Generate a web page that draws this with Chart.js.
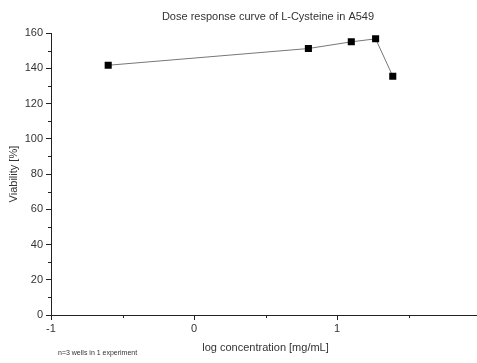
<!DOCTYPE html>
<html>
<head>
<meta charset="utf-8">
<script src="https://cdn.jsdelivr.net/npm/chart.js@4"></script>
<style>
  html, body { margin: 0; padding: 0; background: #fff; overflow: hidden; }
  #wrap { width: 536px; height: 363px; }
</style>
</head>
<body>
<div id="wrap"><canvas id="c" width="536" height="363"></canvas></div>
<script>
// log10 concentration (mg/mL) and mean viability (%)
const logConcentration = [-0.6, 0.8, 1.1, 1.27, 1.39];
const viability = [141.8, 151.3, 155.1, 156.8, 135.6];
const xMajorTicks = [-1, 0, 1, 2];
const xMinorTicks = [-0.5, 0.5, 1.5];
const yMajorTicks = [0, 20, 40, 60, 80, 100, 120, 140, 160];
const yMinorTicks = [10, 30, 50, 70, 90, 110, 130, 150];
const footnote = 'n=3 wells in 1 experiment';

const FONT = '"Liberation Sans", Arial, sans-serif';
const INK = '#333';

// center the chart title over the plot area rather than the whole canvas
const titleOverPlot = {
  id: 'titleOverPlot',
  afterLayout(chart) {
    const t = chart.titleBlock;
    if (!t) return;
    t.left = chart.chartArea.left + 5;
    t.right = chart.chartArea.right;
    t.width = t.right - t.left;
  }
};

// short minor tick marks on both axes, plus the footnote under the plot
const minorTicks = {
  id: 'minorTicks',
  afterDraw(chart) {
    const ctx = chart.ctx;
    const x = chart.scales.x, y = chart.scales.y;
    ctx.save();
    ctx.strokeStyle = '#222';
    ctx.lineWidth = 1;
    ctx.beginPath();
    xMinorTicks.forEach(v => {
      const px = Math.round(x.getPixelForValue(v)) + 0.5;
      ctx.moveTo(px, y.bottom);
      ctx.lineTo(px, y.bottom + 3);
    });
    yMinorTicks.forEach(v => {
      const py = Math.round(y.getPixelForValue(v)) + 0.5;
      ctx.moveTo(x.left, py);
      ctx.lineTo(x.left - 3, py);
    });
    ctx.stroke();
    ctx.fillStyle = INK;
    ctx.font = '7px ' + FONT;
    ctx.textBaseline = 'middle';
    ctx.fillText(footnote, 58, 353);
    ctx.restore();
  }
};

new Chart(document.getElementById('c'), {
  type: 'scatter',
  data: {
    datasets: [{
      data: logConcentration.map((v, i) => ({ x: v, y: viability[i] })),
      showLine: true,
      borderColor: '#777',
      borderWidth: 1,
      backgroundColor: '#000',
      pointStyle: 'rect',
      pointRadius: 5,
      pointBorderColor: '#000',
      pointBorderWidth: 0,
      pointHoverRadius: 5
    }]
  },
  options: {
    responsive: false,
    animation: false,
    events: [],
    layout: { padding: { left: 0, right: 56, top: 0, bottom: 0 } },
    plugins: {
      legend: { display: false },
      tooltip: { enabled: false },
      title: {
        display: true,
        text: 'Dose response curve of L-Cysteine in A549',
        color: INK,
        font: { family: FONT, size: 11, weight: 'normal' },
        padding: { top: 10, bottom: 10 }
      }
    },
    scales: {
      x: {
        type: 'linear',
        min: -1,
        max: 2,
        afterBuildTicks: s => { s.ticks = xMajorTicks.map(v => ({ value: v })); },
        afterFit: s => { s.height = 48; s.paddingLeft = 0; s.paddingRight = 0; },
        grid: { drawOnChartArea: false, drawTicks: true, tickLength: 5, color: '#222' },
        border: { display: true, color: '#222', width: 1 },
        ticks: { color: INK, font: { family: FONT, size: 11 }, padding: 2, maxRotation: 0 },
        title: {
          display: true,
          text: 'log concentration [mg/mL]',
          color: INK,
          font: { family: FONT, size: 11 },
          padding: { top: 0, bottom: 8 }
        }
      },
      y: {
        type: 'linear',
        min: 0,
        max: 160,
        afterBuildTicks: s => { s.ticks = yMajorTicks.map(v => ({ value: v })); },
        afterFit: s => { s.width = 51; s.paddingTop = 0; s.paddingBottom = 0; },
        grid: { drawOnChartArea: false, drawTicks: true, tickLength: 5, color: '#222' },
        border: { display: true, color: '#222', width: 1 },
        ticks: { color: INK, font: { family: FONT, size: 11 }, padding: 3 },
        title: {
          display: true,
          text: 'Viability [%]',
          color: INK,
          font: { family: FONT, size: 11 },
          padding: { top: 7, bottom: 0 }
        }
      }
    }
  },
  plugins: [titleOverPlot, minorTicks]
});
</script>
</body>
</html>
